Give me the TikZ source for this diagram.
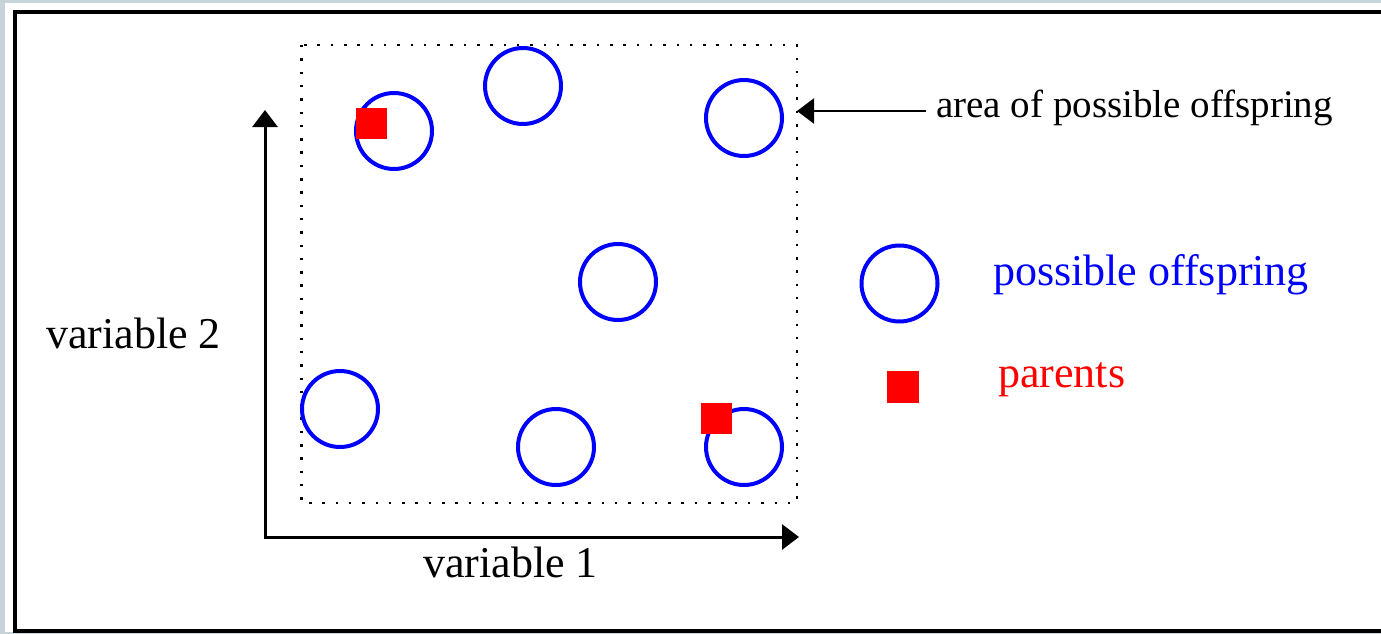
\documentclass[tikz,border=0pt]{standalone}
\usepackage{fontspec}
\setmainfont{Liberation Serif}
\usetikzlibrary{arrows.meta}
\definecolor{panelgray}{HTML}{C8D3D9}
\tikzset{
  offspring/.style={circle, draw=blue, line width=4pt, minimum size=76pt, inner sep=0pt},
  parent/.style={rectangle, fill=red, minimum size=31pt, inner sep=0pt},
  axisarrow/.style={line width=3pt, -{Triangle[length=17pt,width=25pt]}},
  pointer/.style={line width=2.5pt, -{Triangle[length=17pt,width=25pt]}},
  bigtext/.style={font=\fontsize{44pt}{48pt}\selectfont, inner sep=0pt, anchor=base west},
  smalltext/.style={font=\fontsize{39pt}{42pt}\selectfont, inner sep=0pt, anchor=base west},
  regionbox/.style={line width=2.5pt, dash pattern=on 2.5pt off 10.8pt}
}
\begin{document}
\begin{tikzpicture}[x=1pt, y=-1pt]
  \useasboundingbox (0,0) rectangle (1381,634);
  \clip (0,0) rectangle (1381,634);
  % window background and frame
  \fill[panelgray] (0,0) rectangle (1381,634);
  \fill[white] (4.5,3.3) rectangle (1390,632);
  \draw[line width=4pt] (15,11.7) rectangle (1395,631);

  % area of possible offspring
  \draw[regionbox] (301.5,45) rectangle (797,503);

  % axes
  \coordinate (origin) at (265,537);
  \coordinate (ytip) at (265,110);
  \coordinate (xtip) at (799,537);
  \draw[axisarrow] ([yshift=1.5pt]origin) -- (ytip);
  \draw[axisarrow] ([xshift=-1.5pt]origin) -- (xtip);
  \node[bigtext] (var2) at (46,348) {variable 2};
  \node[bigtext] (var1) at (423,577) {variable 1};

  % possible offspring
  \node[offspring] (o1) at (394,131) {};
  \node[offspring] (o2) at (523,86) {};
  \node[offspring] (o3) at (744,118) {};
  \node[offspring] (o4) at (618,282) {};
  \node[offspring] (o5) at (340,409) {};
  \node[offspring] (o6) at (556,447) {};
  \node[offspring] (o7) at (744,447) {};

  % parents
  \node[parent] (p1) at (371.5,123) {};
  \node[parent] (p2) at (716.5,418.5) {};

  % label with pointer
  \node[smalltext] (arealabel) at (936,117) {area of possible offspring};
  \coordinate (areastart) at (926,111);
  \coordinate (areatip) at (797,111);
  \draw[pointer] (areastart) -- (areatip);

  % legend
  \node[offspring] (legcircle) at (899.5,283.5) {};
  \node[bigtext, text=blue] (legoff) at (993,285) {possible offspring};
  \node[parent, minimum size=32pt] (legparent) at (903,386.5) {};
  \node[bigtext, text=red] (legpar) at (998,387) {parents};
\end{tikzpicture}
\end{document}
